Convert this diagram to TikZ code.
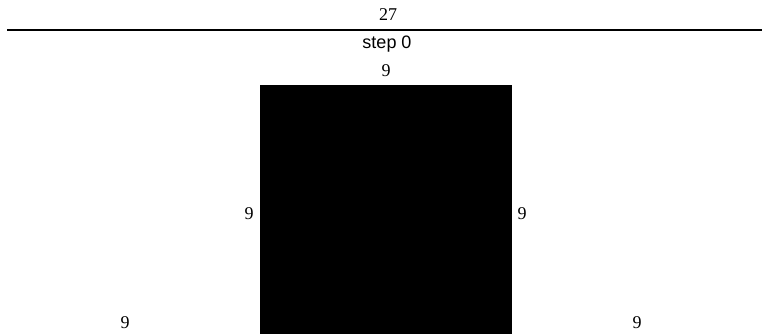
\documentclass[tikz,border=0pt]{standalone}
\usepackage{fontspec}
\setmainfont{Liberation Serif}
\newfontfamily\labelsans{Liberation Sans}
\begin{document}
\begin{tikzpicture}[x=1pt,y=-1pt,
  num/.style={font=\fontsize{18}{20}\selectfont, inner sep=0pt, anchor=base},
  steplabel/.style={font=\labelsans\fontsize{18}{20}\selectfont, inner sep=0pt, anchor=base},
  block/.style={fill=black, draw=none}]
  \useasboundingbox (0,0) rectangle (765,334);
  % total width and rule
  \node[num] (total) at (388,21) {27};
  \coordinate (ruleL) at (7,30);
  \coordinate (ruleR) at (762,30);
  \draw[line width=1.3pt] (ruleL) -- (ruleR);
  \node[steplabel] (step) at (387,48.5) {step 0};
  % middle block and its sizes
  \node[num] (topsize) at (386,77) {9};
  \fill[block] (260,85) rectangle (512,334);
  \node[num] (leftsize) at (249,219) {9};
  \node[num] (rightsize) at (522,219) {9};
  % outer sizes
  \node[num] (outerL) at (125,328) {9};
  \node[num] (outerR) at (637,328) {9};
\end{tikzpicture}
\end{document}
